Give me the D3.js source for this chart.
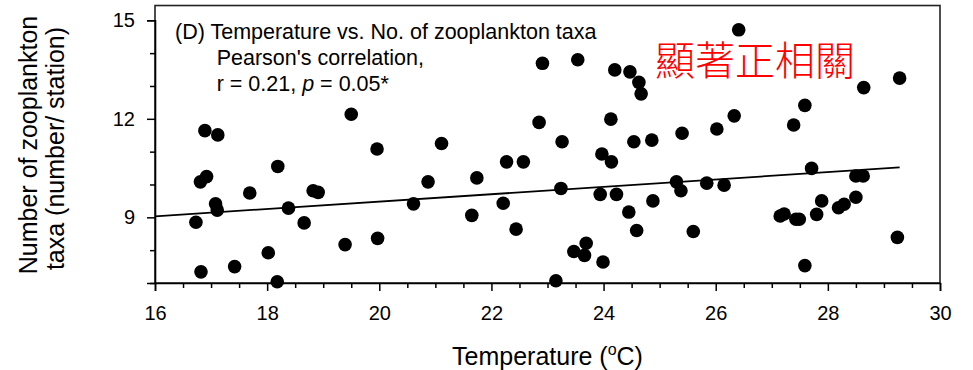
<!DOCTYPE html>
<html><head><meta charset="utf-8">
<script src="https://cdn.jsdelivr.net/npm/d3@7"></script>
<style>body{margin:0;background:#fff}svg{display:block}text{font-family:"Liberation Sans",Arial,sans-serif;fill:#000}</style>
</head><body><svg id="c" width="973" height="370"></svg>
<script>
const temperature = [16.82,16.73,16.81,16.92,16.89,17.12,17.08,17.11,17.42,17.69,18.02,18.18,18.19,18.38,18.66,18.82,18.91,19.39,19.50,19.96,19.97,20.61,20.87,21.11,21.65,21.74,22.21,22.27,22.44,22.57,22.85,22.91,23.15,23.24,23.26,23.47,23.54,23.66,23.69,23.94,23.97,23.99,24.13,24.14,24.20,24.23,24.45,24.47,24.54,24.59,24.63,24.67,24.86,24.88,25.30,25.38,25.40,25.60,25.84,26.02,26.15,26.33,26.41,27.15,27.22,27.39,27.43,27.49,27.59,27.59,27.71,27.80,27.89,28.19,28.29,28.50,28.50,28.63,28.64,29.24,29.28];
const taxa = [7.34,8.85,10.08,10.24,11.64,11.51,9.41,9.22,7.50,9.74,7.92,7.04,10.55,9.28,8.83,9.81,9.76,8.17,12.14,11.08,8.36,9.41,10.08,11.25,9.06,10.20,9.43,10.69,8.64,10.69,11.89,13.69,7.07,9.88,11.30,7.96,13.80,7.84,8.21,9.70,10.93,7.64,11.99,10.69,13.49,9.70,9.16,13.43,11.30,8.60,13.11,12.76,11.35,9.50,10.08,9.81,11.56,8.57,10.04,11.69,9.98,12.09,14.71,9.04,9.10,11.81,8.94,8.94,12.41,7.53,10.49,9.09,9.50,9.29,9.40,9.61,10.26,10.26,12.95,8.39,13.24];
const fitX = [16, 29.28];
const fitY = [9.03, 10.52];
const xTicks = [16,18,20,22,24,26,28,30];
const yTicks = [9,12,15];
const titleLines = ["(D) Temperature vs. No. of zooplankton taxa","Pearson's correlation,"];
const noteText = "顯著正相關";

const svg = d3.select("#c");
const x = d3.scaleLinear().domain([16,30]).range([155,940]);
const y = d3.scaleLinear().domain([7,15]).range([283,20.3]);
const yTop = y(15.45);

// frame
svg.append("rect").attr("x",x(16)).attr("y",yTop).attr("width",x(30)-x(16)).attr("height",y(7)-yTop)
  .attr("fill","none").attr("stroke","#222").attr("stroke-width",1.6);

// x axis
svg.append("g").attr("transform",`translate(0,${y(7)})`)
  .call(d3.axisBottom(x).tickValues(xTicks).tickSize(8).tickPadding(15).tickFormat(d3.format("d")));
svg.append("g").attr("transform",`translate(0,${y(7)})`)
  .call(d3.axisBottom(x).tickValues(d3.range(16.5,30,0.5).filter(v=>v%2!==0)).tickSize(5).tickFormat(""))
  .select(".domain").remove();
// y axis
svg.append("g").attr("transform",`translate(${x(16)},0)`)
  .call(d3.axisLeft(y).tickValues(yTicks).tickSize(8).tickPadding(12).tickFormat(d3.format("d")));
svg.append("g").attr("transform",`translate(${x(16)},0)`)
  .call(d3.axisLeft(y).tickValues([7,8,10,11,13,14]).tickSize(5).tickFormat(""))
  .select(".domain").remove();
svg.selectAll(".tick line").attr("stroke","#000").attr("stroke-width",1.5);
svg.selectAll(".domain").attr("stroke","#000").attr("stroke-width",1.6);
svg.selectAll(".tick text").attr("font-size",20).attr("font-family","Liberation Sans, Arial, sans-serif").attr("fill","#000");

// fit line
svg.append("line").attr("x1",x(fitX[0])).attr("y1",y(fitY[0])).attr("x2",x(fitX[1])).attr("y2",y(fitY[1]))
  .attr("stroke","#000").attr("stroke-width",1.8);

// points
svg.append("g").selectAll("circle").data(temperature.map((t,i)=>[t,taxa[i]])).join("circle")
  .attr("cx",d=>x(d[0])).attr("cy",d=>y(d[1])).attr("r",6.8).attr("fill","#000");

// titles
svg.append("text").attr("x",175).attr("y",38.5).attr("font-size",21.5).text(titleLines[0]);
svg.append("text").attr("x",216.7).attr("y",64.5).attr("font-size",21.5).text(titleLines[1]);
const l3 = svg.append("text").attr("x",216.7).attr("y",90.5).attr("font-size",21.5);
l3.append("tspan").text("r = 0.21, ");
l3.append("tspan").attr("font-style","italic").text("p");
l3.append("tspan").text(" = 0.05*");

svg.append("text").attr("x",655).attr("y",75).attr("font-size",40)
  .style("font-family","'Noto Sans CJK TC','Noto Sans CJK SC',sans-serif").style("font-weight",300)
  .style("fill","#ff0000").text(noteText);

// axis titles
const xt = svg.append("text").attr("x",(x(16)+x(30))/2).attr("y",365).attr("text-anchor","middle").attr("font-size",25);
xt.append("tspan").text("Temperature (");
xt.append("tspan").attr("font-size",16).attr("dy",-10).text("o");
xt.append("tspan").attr("dy",10).text("C)");

svg.append("text").attr("transform","translate(37,145) rotate(-90)").attr("text-anchor","middle").attr("font-size",25).text("Number of zooplankton");
svg.append("text").attr("transform","translate(64,148.5) rotate(-90)").attr("text-anchor","middle").attr("font-size",25).text("taxa (number/ station)");
</script></body></html>
